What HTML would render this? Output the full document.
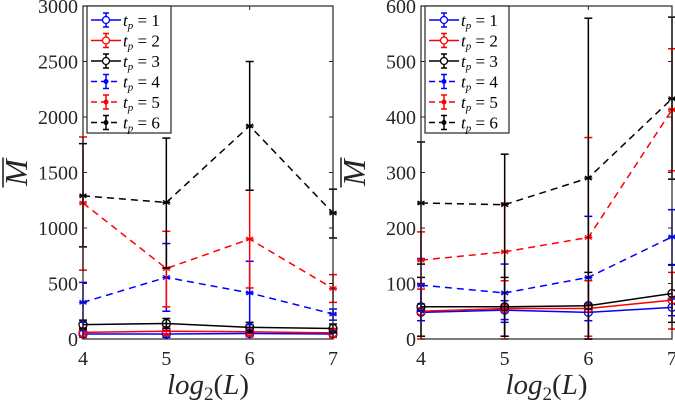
<!DOCTYPE html>
<html><head><meta charset="utf-8"><style>
body{margin:0;background:#fff}
svg{display:block}
text{font-family:"Liberation Serif","DejaVu Serif",serif}
</style></head><body>
<svg id="chart" width="675" height="401" viewBox="0 0 675 401" xmlns="http://www.w3.org/2000/svg"></svg>
<script>
const xCats=[4,5,6,7];
const seriesNames=["t_p = 1","t_p = 2","t_p = 3","t_p = 4","t_p = 5","t_p = 6"];
const seriesColors=["#0000ff","#ff0000","#000000","#0000ff","#ff0000","#000000"];
// left panel
const L1=[45,45,50,45],L1lo=[15,15,20,15],L1hi=[75,75,80,75];
const L2=[60,70,65,55],L2lo=[20,30,25,15],L2hi=[100,110,105,95];
const L3=[130,140,105,95],L3lo=[90,95,60,55],L3hi=[170,185,150,135];
const L4=[330,555,415,225],L4lo=[150,250,130,170],L4hi=[510,860,700,270];
const L5=[1225,635,900,455],L5lo=[620,290,460,330],L5hi=[1820,970,1340,580];
const L6=[1290,1230,1920,1135],L6lo=[830,640,1340,910],L6hi=[1760,1810,2500,1350];
const leftTicks=[0,500,1000,1500,2000,2500,3000];
// right panel
const R1=[48,52,48,57],R1lo=[33,35,33,42],R1hi=[63,69,63,72];
const R2=[50,55,55,70],R2lo=[0,5,5,18],R2hi=[100,105,105,120];
const R3=[58,58,60,82],R3lo=[5,5,0,30],R3hi=[111,111,120,134];
const R4=[97,83,111,184],R4lo=[50,30,0,133],R4hi=[145,135,221,233];
const R5=[142,157,183,413],R5lo=[90,0,0,303],R5hi=[193,245,363,523];
const R6=[245,242,290,433],R6lo=[135,5,0,288],R6hi=[355,333,578,580];
const rightTicks=[0,100,200,300,400,500,600];

const NS="http://www.w3.org/2000/svg";
const svg=document.getElementById('chart');
const SERIF='Liberation Serif, DejaVu Serif, serif';
function mk(t,a,p){const e=document.createElementNS(NS,t);for(const k in a)e.setAttribute(k,a[k]);if(t==='text'&&!a['font-family'])e.setAttribute('font-family',SERIF);(p||svg).appendChild(e);return e;}

function panel(px0,px1,py0,py1,ymax,ticks,data,name){
  const g=mk('g',{});
  
  
  const xs=v=>px0+(v-4)/3*(px1-px0);
  const ys=v=>py0-(v/ymax)*(py0-py1);
  mk('rect',{x:px0,y:py1,width:px1-px0,height:py0-py1,fill:'#fff',stroke:'none'},g);
  ticks.forEach(t=>{
    const y=ys(t);
    mk('line',{x1:px0,x2:px0+4,y1:y,y2:y,stroke:'#262626'},g);
    mk('line',{x1:px1,x2:px1-4,y1:y,y2:y,stroke:'#262626'},g);
    const tx=mk('text',{x:px0-5,y:y+7,'text-anchor':'end','font-size':'20',fill:'#262626'},g);
    tx.textContent=t;
    
    
  });
  xCats.forEach(c=>{
    const x=xs(c);
    mk('line',{x1:x,x2:x,y1:py0,y2:py0-4,stroke:'#262626'},g);
    mk('line',{x1:x,x2:x,y1:py1,y2:py1+4,stroke:'#262626'},g);
    const tx=mk('text',{x:x,y:py0+26,'text-anchor':'middle','font-size':'20',fill:'#262626'},g);
    tx.textContent=c;
    
    
  });
  data.forEach((d,i)=>{
    const [vals,lo,hi]=d;
    const col=seriesColors[i];
    const dashed=i>=3;
    const sg=mk('g',{},g);
    
    
    vals.forEach((v,j)=>{
      const x=xs(xCats[j]);
      mk('line',{x1:x,x2:x,y1:ys(lo[j]),y2:ys(hi[j]),stroke:col,'stroke-width':1.5},sg);
      mk('line',{x1:x-4,x2:x+4,y1:ys(lo[j]),y2:ys(lo[j]),stroke:col,'stroke-width':1.5},sg);
      mk('line',{x1:x-4,x2:x+4,y1:ys(hi[j]),y2:ys(hi[j]),stroke:col,'stroke-width':1.5},sg);
    });
    const pts=vals.map((v,j)=>xs(xCats[j])+','+ys(v)).join(' ');
    const pl=mk('polyline',{points:pts,fill:'none',stroke:col,'stroke-width':1.5,'stroke-dasharray':dashed?'7,5':'none'},sg);
    
    
    vals.forEach((v,j)=>{
      const x=xs(xCats[j]),y=ys(v);
      if(!dashed){mk('circle',{cx:x,cy:y,r:4,fill:'none',stroke:col,'stroke-width':1.3},sg);}
      else{
        for(let a=0;a<3;a++){const an=a*Math.PI/3+Math.PI/2;mk('line',{x1:x-4*Math.cos(an),y1:y-4*Math.sin(an),x2:x+4*Math.cos(an),y2:y+4*Math.sin(an),stroke:col,'stroke-width':1.3},sg);}
        mk('line',{x1:x-4,x2:x+4,y1:y,y2:y,stroke:col,'stroke-width':1.3},sg);
      }
    });
  });
  mk('rect',{x:px0,y:py1,width:px1-px0,height:py0-py1,fill:'none',stroke:'#262626','stroke-width':1.2},g);
  const lx=px0+4,ly=py1,lw=84,lh=127;
  const lg=mk('g',{},g);
  
  
  mk('rect',{x:lx,y:ly,width:lw,height:lh,fill:'#fff',stroke:'#262626','stroke-width':1.2},lg);
  seriesNames.forEach((n,i)=>{
    const y=ly+14+i*20.5,col=seriesColors[i];
    const eg=mk('g',{},lg);
    
    
    mk('line',{x1:lx+4,x2:lx+34,y1:y,y2:y,stroke:col,'stroke-width':1.5,'stroke-dasharray':i>=3?'6,4':'none'},eg);
    mk('line',{x1:lx+19,x2:lx+19,y1:y-7,y2:y+7,stroke:col,'stroke-width':1.5},eg);
    mk('line',{x1:lx+16,x2:lx+22,y1:y-7,y2:y-7,stroke:col,'stroke-width':1.5},eg);
    mk('line',{x1:lx+16,x2:lx+22,y1:y+7,y2:y+7,stroke:col,'stroke-width':1.5},eg);
    if(i<3)mk('circle',{cx:lx+19,cy:y,r:3.5,fill:'#fff',stroke:col,'stroke-width':1.3},eg);
    else mk('circle',{cx:lx+19,cy:y,r:2.5,fill:col},eg);
    const t=mk('text',{x:lx+36,y:y+6,'font-size':'17',fill:'#000'},eg);
    t.innerHTML='<tspan font-style="italic">t</tspan><tspan font-style="italic" font-size="11" dy="3">p</tspan><tspan dy="-3"> = '+(i+1)+'</tspan>';
  });
  const xl=mk('text',{x:(px0+px1)/2,y:394,'text-anchor':'middle','font-size':'29','font-style':'italic',fill:'#262626'},g);
  xl.innerHTML='log<tspan font-size="19" font-style="normal" dy="6">2</tspan><tspan dy="-6" font-style="normal">(</tspan>L<tspan font-style="normal">)</tspan>';
  
  
  const yx=px0-56, yy=(py0+py1)/2;
  const yl=mk('text',{x:yx,y:yy,'text-anchor':'middle','font-size':'32','font-style':'italic',fill:'#262626',transform:'rotate(-90 '+yx+' '+yy+')'},g);
  yl.textContent='M';
  
  
  mk('line',{x1:yx-24,x2:yx-24,y1:yy-15,y2:yy+15,stroke:'#262626','stroke-width':1.6},g);
}
panel(83,333,339,6,3000,leftTicks,[[L1,L1lo,L1hi],[L2,L2lo,L2hi],[L3,L3lo,L3hi],[L4,L4lo,L4hi],[L5,L5lo,L5hi],[L6,L6lo,L6hi]],'left-panel');
panel(421,672,339,6,600,rightTicks,[[R1,R1lo,R1hi],[R2,R2lo,R2hi],[R3,R3lo,R3hi],[R4,R4lo,R4hi],[R5,R5lo,R5hi],[R6,R6lo,R6hi]],'right-panel');
</script>
</body></html>
